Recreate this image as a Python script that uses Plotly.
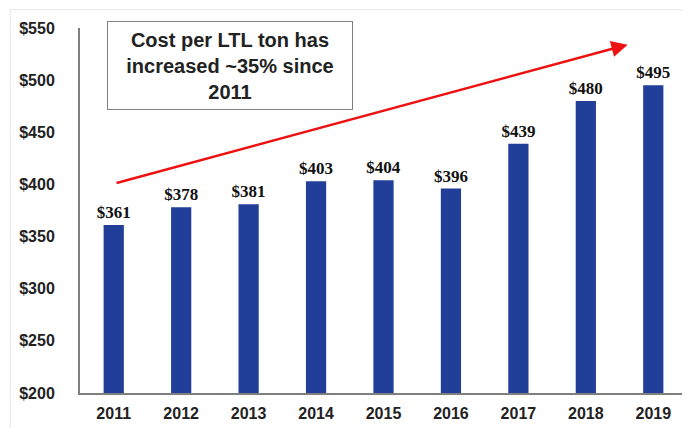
import plotly.graph_objects as go

years = ["2011", "2012", "2013", "2014", "2015", "2016", "2017", "2018", "2019"]
cost = [361, 378, 381, 403, 404, 396, 439, 480, 495]
labels = ["$361", "$378", "$381", "$403", "$404", "$396", "$439", "$480", "$495"]
y_ticks = [200, 250, 300, 350, 400, 450, 500, 550]
y_tick_text = ["$200", "$250", "$300", "$350", "$400", "$450", "$500", "$550"]
callout = "Cost per LTL ton has<br>increased ~35% since<br>2011"

fig = go.Figure()
fig.add_trace(go.Bar(
    x=years, y=cost, text=labels, textposition="outside", constraintext="none",
    textfont=dict(family="Liberation Serif", size=17, color="#111111", weight="bold"),
    marker=dict(color="#213F99", line=dict(width=0)),
    cliponaxis=False,
))

fig.update_layout(
    width=682, height=420,
    margin=dict(l=72, r=3, t=20, b=35),
    paper_bgcolor="white", plot_bgcolor="white",
    bargap=0.7, showlegend=False,
    font=dict(family="Liberation Sans", color="#222222"),
    xaxis=dict(
        type="category", showgrid=False, showline=True, linecolor="#7f7f7f", linewidth=2,
        ticks="", ticklabelstandoff=5,
        tickfont=dict(family="Liberation Sans", size=16, color="#222222", weight="bold"),
        range=[-0.5, 8.5],
    ),
    yaxis=dict(
        range=[200, 550], tickvals=y_ticks, ticktext=y_tick_text, showgrid=False,
        showline=True, linecolor="#7f7f7f", linewidth=2, ticks="", zeroline=False,
        ticklabelstandoff=20,
        tickfont=dict(family="Liberation Sans", size=16, color="#222222", weight="bold"),
    ),
    shapes=[
        dict(type="rect", xref="paper", yref="paper", x0=-0.115, x1=1.0, y0=-0.12, y1=1.05,
             line=dict(color="#e6e6e6", width=1), fillcolor="rgba(0,0,0,0)", layer="below"),
    ],
    annotations=[
        dict(x=7.62, y=534, xref="x", yref="y", ax=0.02, ay=401, axref="x", ayref="y",
             showarrow=True, arrowhead=2, arrowsize=1.3, arrowwidth=2.5, arrowcolor="#ee1111",
             text=""),
        dict(x=0.247, y=1.019, xref="paper", yref="paper", xanchor="center", yanchor="top",
             text=callout, showarrow=False, align="center",
             font=dict(family="Liberation Sans", size=20, color="#222222", weight="bold"),
             bordercolor="#808080", borderwidth=1, bgcolor="white", borderpad=5,
             width=234, height=77),
    ],
)

fig.write_html("out.html")
